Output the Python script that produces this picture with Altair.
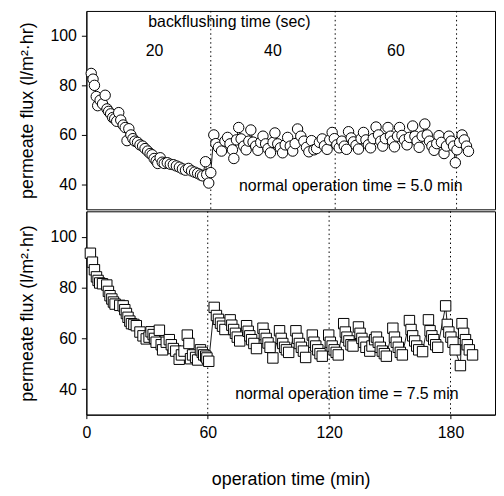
import altair as alt
import pandas as pd

# ---- data ----
top_x = [2.4, 3.3, 4.0, 4.9, 5.6, 6.8, 8.0, 9.3, 10.2, 11.0, 12.0, 13.0, 14.0, 15.0, 16.0, 17.0,
         18.2, 19.2, 20.1, 21.0, 22.0, 23.0, 24.0, 25.3, 26.5, 27.8, 29.0, 30.3, 31.5, 32.5, 33.5,
         34.5, 35.3, 36.5, 37.5, 38.5, 40.0, 41.5, 43.0, 44.5, 46.0, 47.5, 49.0, 50.5, 52.0, 53.5,
         55.0, 56.4, 57.5, 58.9, 59.5, 60.5, 61.5,
         63.0, 64.0, 65.3, 66.8, 68.5, 69.8, 71.0, 72.2, 72.9, 74.2, 75.3, 76.5, 77.8, 79.0, 80.3,
         81.3, 82.4, 83.7, 84.8, 86.2, 87.3, 88.6, 89.8, 91.0, 92.3, 93.2, 94.6, 95.9, 97.0, 98.3,
         99.5, 100.8, 102.0, 103.2, 104.4, 106.0, 107.5, 108.8, 110.0, 111.3, 112.5, 113.8, 115.2,
         116.6, 117.7, 119.0, 120.3, 121.5, 122.6, 123.8, 125.0, 126.3, 127.5, 128.6, 129.6, 130.9,
         132.0, 133.3, 134.5, 135.8, 137.0, 138.2, 139.4, 140.5, 141.8, 143.2, 144.4, 145.5, 146.5,
         147.8, 149.1, 150.3, 151.3, 152.3, 153.8, 154.8, 156.0, 157.2, 158.5, 159.7, 161.3, 162.4,
         163.5, 164.5, 166.0, 167.3, 168.5, 169.6, 170.8, 171.9, 173.2, 174.3, 175.5, 176.8, 178.0,
         179.2, 180.3, 181.5, 182.4, 183.2, 184.5, 185.7, 186.8, 187.9, 188.9]
top_y = [84.8, 82.5, 80.0, 75.5, 71.8, 74.0, 72.5, 76.0, 70.5, 69.5, 68.5, 67.0, 66.5, 65.5, 69.0, 66.0,
         64.0, 63.0, 57.7, 62.5, 60.0, 58.5, 57.5, 57.0, 56.0, 55.5, 54.5, 53.5, 52.5, 52.0, 50.5,
         49.5, 48.5, 50.8, 49.0, 48.5, 48.8, 48.2, 48.0, 47.5, 47.0, 46.3, 45.8, 46.5, 45.5, 45.0,
         44.5, 43.9, 43.5, 49.2, 44.0, 40.6, 44.8,
         60.0, 56.5, 55.0, 53.5, 57.5, 59.0, 56.4, 54.0, 50.5, 58.0, 63.0, 58.4, 55.5, 54.0, 57.5,
         62.0, 57.1, 55.5, 53.8, 57.0, 59.5, 56.4, 54.5, 52.8, 57.0, 60.8, 56.4, 54.8, 52.8, 56.0,
         59.0, 55.5, 53.5, 56.5, 62.4, 59.5, 57.5, 55.0, 53.2, 57.7, 54.0, 54.5, 57.0,
         58.4, 55.6, 54.2, 58.0, 61.0, 58.5, 56.0, 54.8, 57.5, 55.5, 54.2, 61.3, 58.8,
         57.2, 55.8, 54.3, 58.5, 61.0, 58.0, 56.0, 54.8, 58.5, 63.2, 60.0, 57.5, 55.5,
         58.5, 63.0, 59.5, 57.5, 55.2, 59.5, 63.0, 59.8, 58.0, 56.0, 59.0, 63.6, 59.5,
         57.5, 55.0, 59.5, 64.4, 60.0, 57.5, 55.5, 53.8, 56.5, 59.7, 57.0, 52.5, 55.5,
         59.5, 57.5, 55.5, 48.8, 54.0, 57.0, 60.0, 58.0, 55.5, 53.4]

bot_x = [2.0, 3.0, 4.0, 5.0, 5.8, 6.6, 8.0, 10.1, 10.9, 11.7, 12.6, 13.4, 14.2, 16.5, 18.2, 19.0,
         19.8, 20.6, 21.5, 22.3, 23.5, 24.7, 26.5, 28.0, 29.6, 31.0, 32.0, 33.0, 33.7, 34.5, 36.1,
         37.0, 37.7, 39.5, 41.0, 42.0, 43.0, 44.2, 45.9, 47.0, 48.3, 49.9, 50.7, 51.5, 52.5, 54.0,
         55.0, 56.4, 57.3, 58.0, 59.0, 59.6, 60.5,
         63.2, 64.3, 65.3, 66.3, 67.3, 68.5, 71.1, 71.9, 72.8, 73.7, 74.6, 75.8, 79.2, 80.0, 80.8,
         81.7, 82.8, 84.1, 87.3, 88.0, 88.9, 89.8, 90.8, 92.2, 95.5, 96.3, 97.1, 98.0, 98.9, 100.0,
         103.6, 104.4, 105.3, 106.3, 107.3, 108.4, 111.7, 112.5, 113.4, 114.4, 115.5, 116.6, 119.8,
         120.6, 121.5, 122.5, 123.5, 124.5, 127.2, 128.0, 128.8, 129.8, 130.8, 131.8, 134.5, 135.3,
         136.2, 137.2, 138.2, 140.1, 141.2, 142.5, 143.4, 144.3, 145.3, 146.3, 147.3, 148.3, 151.5,
         152.3, 153.2, 154.2, 155.2, 156.2, 159.7, 160.5, 161.3, 162.3, 163.3, 164.3, 166.2, 169.1,
         169.9, 170.8, 171.7, 172.7, 173.7, 177.6, 178.4, 179.2, 180.2, 181.2, 182.3, 184.9, 185.7,
         186.5, 187.4, 188.3, 189.3, 190.9]
bot_y = [93.5, 90.0, 87.0, 84.2, 82.8, 81.8, 81.5, 81.0, 78.5, 76.8, 75.5, 74.3, 73.5, 73.0, 72.8, 71.3,
         69.8, 68.3, 66.8, 65.8, 65.5, 65.0, 62.5, 61.0, 59.8, 60.5, 62.6, 61.5, 60.0, 58.5, 63.2,
         57.5, 55.5, 58.5, 59.5, 57.5, 56.0, 55.0, 51.8, 53.5, 55.0, 61.3, 58.0, 52.0, 53.5, 52.5,
         51.5, 55.5, 54.5, 53.5, 53.0, 52.3, 51.0,
         72.2, 69.0, 67.5, 66.0, 64.8, 63.5, 67.3, 65.2, 63.5, 62.0, 60.5, 59.0, 65.0, 62.8, 61.0,
         59.5, 58.0, 56.0, 64.0, 61.5, 60.0, 58.2, 56.5, 52.3, 63.0, 60.0, 58.0, 56.5, 55.5, 54.5,
         63.0, 60.0, 58.0, 56.5, 55.0, 52.5, 61.3, 58.5, 57.0, 55.5, 54.0, 53.0, 61.3,
         58.5, 57.0, 55.5, 54.5, 53.5, 65.8, 62.5, 60.5, 59.0, 57.5, 57.0, 64.5, 62.0,
         60.0, 58.5, 56.5, 55.0, 57.0, 59.5, 60.5, 58.5, 56.5, 55.0, 54.0, 53.0, 64.0,
         60.5, 58.5, 56.5, 54.5, 53.5, 67.0, 63.5, 61.0, 59.0, 57.0, 55.5, 54.8, 67.3,
         63.0, 61.0, 59.5, 57.5, 56.5, 72.8, 65.5, 62.5, 60.5, 58.5, 55.5, 49.3, 65.8,
         62.0, 59.5, 57.5, 55.5, 53.5]

top_dividers = [61.5, 123.0, 183.0]
bot_dividers = [60.0, 120.0, 180.0]
x_ticks = [0, 60, 120, 180]
y_ticks = [40, 60, 80, 100]

top_labels = ["backflushing time (sec)", "20", "40", "60", "normal operation time = 5.0 min"]
top_label_x = [70.7, 33.7, 92.2, 153.0, 130.7]
top_label_y = [105.5, 94.0, 94.0, 94.0, 39.4]
bot_labels = ["normal operation time = 7.5 min"]
bot_label_x = [128.8]
bot_label_y = [38.1]

FONT = "Liberation Sans"
W = 412
XDOM = [0, 202]
YDOM = [30, 110]

top_df = pd.DataFrame({"t": top_x, "flux": top_y, "i": range(len(top_x))})
bot_df = pd.DataFrame({"t": bot_x, "flux": bot_y, "i": range(len(bot_x))})

ytitle = "permeate flux (l/m\u00b2\u00b7hr)"


def panel(df, dividers, labels, lx, ly, shape, height, show_x):
    if show_x:
        xax = alt.Axis(values=x_ticks, title="operation time (min)", labelFontSize=16,
                       titleFontSize=18, tickSize=4, labelPadding=6, titlePadding=30,
                       labelFlush=False)
    else:
        xax = None
    xscale = alt.Scale(domain=XDOM, nice=False, zero=False)
    yscale = alt.Scale(domain=YDOM, nice=False, zero=False)
    xenc = alt.X("t:Q", scale=xscale, axis=xax)
    yenc = alt.Y("flux:Q", scale=yscale,
                 axis=alt.Axis(values=y_ticks, title=ytitle, labelFontSize=16, titleFontSize=18,
                               tickSize=5, labelPadding=5, titlePadding=14))
    rules = alt.Chart(pd.DataFrame({"t": dividers})).mark_rule(
        color="black", strokeDash=[1.5, 3], strokeWidth=1
    ).encode(x=alt.X("t:Q", scale=xscale, axis=xax))
    line = alt.Chart(df).mark_line(color="black", strokeWidth=0.9).encode(
        x=xenc, y=yenc, order="i:Q")
    pts = alt.Chart(df).mark_point(shape=shape, filled=True, fill="white", stroke="black",
                                   strokeWidth=1, size=110, opacity=1).encode(x=xenc, y=yenc)
    txt = alt.Chart(pd.DataFrame({"t": lx, "flux": ly, "lab": labels})).mark_text(
        font=FONT, fontSize=16, color="black", align="center", baseline="middle"
    ).encode(x=alt.X("t:Q", scale=xscale),
             y=alt.Y("flux:Q", scale=yscale),
             text="lab:N")
    return alt.layer(rules, line, pts, txt).properties(width=W, height=height)


top = panel(top_df, top_dividers, top_labels, top_label_x, top_label_y, "circle", 200, False)
bot = panel(bot_df, bot_dividers, bot_labels, bot_label_x, bot_label_y, "square", 205, True)

chart = alt.vconcat(top, bot, spacing=0).properties(
    padding={"left": 9, "top": 0, "right": 0, "bottom": 0},
    background="white"
).configure_view(stroke="black", strokeWidth=1).configure_axis(
    grid=False, domainColor="black", tickColor="black", labelColor="black",
    titleColor="black", labelFont=FONT, titleFont=FONT, titleFontWeight="normal"
)

chart.save("out.html", embed_options={"renderer": "svg", "actions": False})
